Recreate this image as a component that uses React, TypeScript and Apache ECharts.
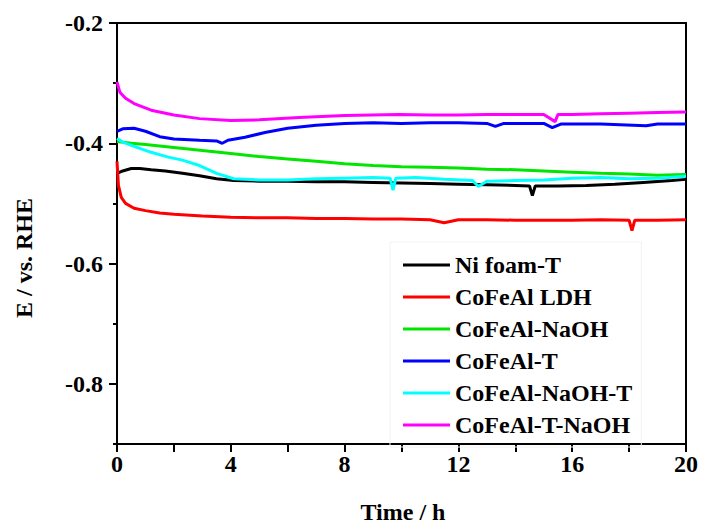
import React, { useEffect, useRef } from 'react';
import * as echarts from 'echarts';

const seriesNames = ['Ni foam-T', 'CoFeAl LDH', 'CoFeAl-NaOH', 'CoFeAl-T', 'CoFeAl-NaOH-T', 'CoFeAl-T-NaOH'];
const seriesColors = ['#000000', '#ff0000', '#00e600', '#0000ff', '#00ffff', '#ff00ff'];

const xTickValues = [0, 2, 4, 6, 8, 10, 12, 14, 16, 18, 20];
const yTickValues = [-0.8, -0.6, -0.4, -0.2];
const yMinorTickValues = [-0.9, -0.7, -0.5, -0.3];

const xAxisTitle = 'Time / h';
const yAxisTitle = 'E / vs. RHE';

// [time (h), potential (V vs. RHE)]
const niFoamT: [number, number][] = [
  [0, -0.45], [0.2, -0.446], [0.5, -0.442], [0.8, -0.442], [1.2, -0.444], [1.7, -0.446],
  [2.3, -0.45], [2.9, -0.454], [3.5, -0.459], [4.1, -0.462], [5, -0.463], [6, -0.463],
  [7, -0.464], [8, -0.464], [9, -0.465], [10, -0.466], [11, -0.467], [12, -0.468],
  [13, -0.469], [14, -0.47], [14.5, -0.471], [14.6, -0.487], [14.7, -0.471], [15.5, -0.471],
  [16.5, -0.47], [17.5, -0.468], [18.5, -0.465], [19.5, -0.462], [20, -0.46],
];

const coFeAlLDH: [number, number][] = [
  [0, -0.43], [0.05, -0.47], [0.15, -0.49], [0.3, -0.5], [0.6, -0.508], [1, -0.512],
  [1.5, -0.516], [2, -0.518], [3, -0.521], [4, -0.523], [5, -0.524], [6, -0.524],
  [7, -0.525], [8, -0.525], [9, -0.526], [10, -0.526], [11, -0.527], [11.5, -0.532],
  [12, -0.527], [13, -0.527], [14, -0.528], [15, -0.528], [16, -0.528], [17, -0.527],
  [18, -0.528], [18.1, -0.545], [18.2, -0.528], [19, -0.528], [20, -0.527],
];

const coFeAlNaOH: [number, number][] = [
  [0, -0.397], [0.5, -0.4], [1, -0.402], [2, -0.407], [3, -0.412], [4, -0.417],
  [5, -0.422], [6, -0.426], [7, -0.43], [8, -0.434], [9, -0.437], [10, -0.439],
  [11, -0.44], [12, -0.441], [13, -0.443], [14, -0.444], [15, -0.446], [16, -0.448],
  [17, -0.45], [18, -0.451], [19, -0.453], [20, -0.452],
];

const coFeAlT: [number, number][] = [
  [0, -0.38], [0.2, -0.376], [0.6, -0.375], [1, -0.38], [1.5, -0.389], [2, -0.393],
  [2.9, -0.395], [3.5, -0.396], [3.7, -0.4], [3.9, -0.395], [4.5, -0.39], [5.2, -0.382],
  [6, -0.375], [7, -0.37], [8, -0.367], [9, -0.366], [10, -0.367], [11, -0.366],
  [12, -0.366], [13, -0.367], [13.3, -0.372], [13.6, -0.367], [15, -0.367], [15.3, -0.374],
  [15.6, -0.368], [17, -0.368], [18.6, -0.371], [19, -0.368], [20, -0.368],
];

const coFeAlNaOHT: [number, number][] = [
  [0, -0.392], [0.2, -0.398], [0.6, -0.405], [1.2, -0.415], [1.8, -0.423], [2.3, -0.428],
  [2.9, -0.437], [3.5, -0.45], [4.1, -0.459], [5, -0.461], [6, -0.461], [7, -0.459],
  [8, -0.458], [9, -0.457], [9.6, -0.458], [9.7, -0.478], [9.8, -0.458], [10.5, -0.457],
  [11.5, -0.46], [12.5, -0.462], [12.7, -0.472], [13, -0.463], [14, -0.462], [15, -0.461],
  [16, -0.458], [17, -0.457], [18, -0.459], [19, -0.458], [20, -0.455],
];

const coFeAlTNaOH: [number, number][] = [
  [0, -0.298], [0.1, -0.315], [0.3, -0.325], [0.6, -0.334], [1.2, -0.345], [2, -0.353],
  [2.9, -0.359], [4, -0.362], [5, -0.361], [6.4, -0.357], [8, -0.354], [9.9, -0.352],
  [11, -0.353], [12, -0.353], [13, -0.352], [14, -0.352], [15, -0.352], [15.4, -0.364],
  [15.5, -0.352], [16, -0.352], [17, -0.351], [18, -0.35], [19, -0.349], [20, -0.348],
];

const allSeriesData = [niFoamT, coFeAlLDH, coFeAlNaOH, coFeAlT, coFeAlNaOHT, coFeAlTNaOH];

const FONT = "'Liberation Serif', 'Times New Roman', serif";

export default function App() {
  const ref = useRef<HTMLDivElement>(null);

  useEffect(() => {
    if (!ref.current) return;
    const chart = echarts.init(ref.current, undefined, { renderer: 'svg' });
    const textStyle = { fontFamily: FONT, fontWeight: 'bold' as const, fontSize: 24, color: '#000' };

    chart.setOption({
      animation: false,
      backgroundColor: '#ffffff',
      grid: {
        left: 117, top: 23, right: 13, bottom: 80,
        show: true, borderColor: '#000', borderWidth: 2, backgroundColor: 'transparent',
      },
      legend: {
        left: 390,
        top: 242,
        orient: 'vertical',
        icon: 'rect',
        itemWidth: 47,
        itemHeight: 3,
        itemGap: 8,
        padding: [11, 9, 10, 13],
        borderColor: '#f2f2f2',
        borderWidth: 1,
        textStyle: { ...textStyle, lineHeight: 24 },
        data: seriesNames.map((n, i) => ({ name: n, itemStyle: { color: seriesColors[i] } })),
      },
      xAxis: [
        {
          type: 'value', min: 0, max: 20, interval: 2,
          axisLine: { show: true, lineStyle: { color: '#000', width: 2 } },
          axisTick: { show: true, inside: false, length: 8, lineStyle: { color: '#000', width: 2 } },
          axisLabel: {
            ...textStyle, margin: 8,
            customValues: xTickValues,
            formatter: (v: number) => (Math.round(v) % 4 === 0 ? String(Math.round(v)) : ''),
          },
          splitLine: { show: false },
        },
      ],
      yAxis: [
        {
          type: 'value', min: -0.9, max: -0.2, position: 'left',
          axisLine: { show: true, lineStyle: { color: '#000', width: 2 } },
          axisTick: { show: true, inside: false, length: 8, customValues: yTickValues, lineStyle: { color: '#000', width: 2 } },
          axisLabel: {
            ...textStyle, margin: 14,
            customValues: yTickValues,
            formatter: (v: number) => v.toFixed(1),
          },
          splitLine: { show: false },
        },
        {
          type: 'value', min: -0.9, max: -0.2, position: 'left',
          axisLine: { show: false },
          axisTick: { show: true, inside: false, length: 4, customValues: yMinorTickValues, lineStyle: { color: '#000', width: 2 } },
          axisLabel: { show: false },
          splitLine: { show: false },
        },
      ],
      graphic: [
        {
          type: 'text', x: 403, y: 512,
          style: { text: xAxisTitle, fill: '#000', font: `bold 24px ${FONT}`, textAlign: 'center', textVerticalAlign: 'middle' },
        },
        {
          type: 'text', x: 24, y: 258, rotation: Math.PI / 2,
          style: { text: yAxisTitle, fill: '#000', font: `bold 24px ${FONT}`, textAlign: 'center', textVerticalAlign: 'middle' },
        },
      ],
      series: allSeriesData.map((d, i) => ({
        name: seriesNames[i],
        type: 'line',
        xAxisIndex: 0,
        yAxisIndex: 0,
        data: d,
        showSymbol: false,
        symbol: 'none',
        lineStyle: { color: seriesColors[i], width: 3 },
        itemStyle: { color: seriesColors[i] },
      })),
    });

    return () => chart.dispose();
  }, []);

  return <div ref={ref} style={{ position: 'fixed', left: 0, top: 0, width: 701, height: 524 }} />;
}
